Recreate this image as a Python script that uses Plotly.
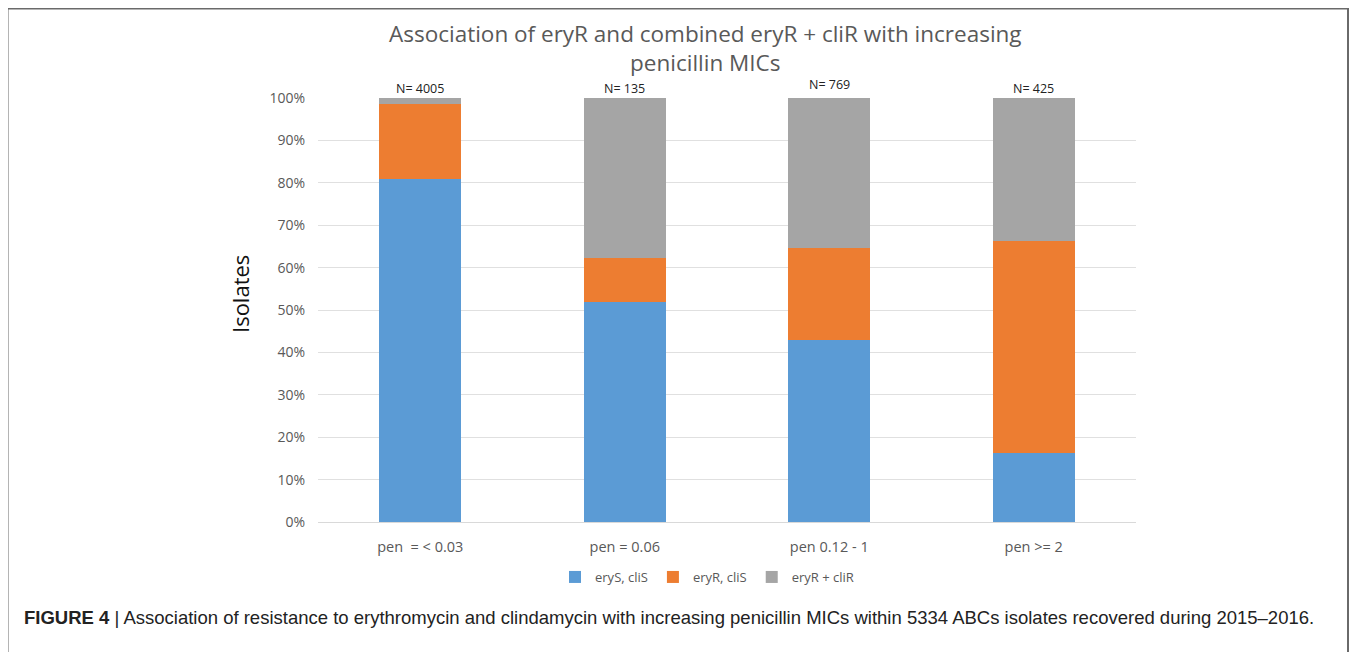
import plotly.graph_objects as go

categories = ["pen  = < 0.03", "pen = 0.06", "pen 0.12 - 1", "pen >= 2"]
n_labels = ["N= 4005", "N= 135", "N= 769", "N= 425"]
erys_clis = [80.8, 51.8, 42.9, 16.3]
eryr_clis = [17.7, 10.5, 21.7, 49.9]
eryr_clir = [1.5, 37.7, 35.4, 33.8]
series_names = ["eryS, cliS", "eryR, cliS", "eryR + cliR"]
colors = ["#5B9BD5", "#ED7D31", "#A5A5A5"]
y_ticks = [0, 10, 20, 30, 40, 50, 60, 70, 80, 90, 100]

# page body has an 8px margin; work in window coordinates
OFF = 8
W, H = 1357 - OFF, 652 - OFF
L, R, T, B = 310, 221, 90, 130
PW, PH = W - L - R, H - T - B


def px(X):
    return (X - OFF - L) / PW


def py(Y):
    return (H - (Y - OFF) - B) / PH


fig = go.Figure()
for name, vals, col in zip(series_names, [erys_clis, eryr_clis, eryr_clir], colors):
    fig.add_trace(go.Bar(x=categories, y=vals, name=name,
                         marker=dict(color=col, line=dict(width=0)), width=0.40))

n_shift = [0, 0, 4, 0]
for c, t, s in zip(categories, n_labels, n_shift):
    fig.add_annotation(x=c, y=100, text=t, showarrow=False, yanchor="bottom", yshift=-1 + s,
                       font=dict(family="Open Sans, sans-serif", size=12.5, color="#222222"))

fig.update_layout(
    width=W, height=H, barmode="stack",
    paper_bgcolor="white", plot_bgcolor="white",
    margin=dict(l=L, r=R, t=T, b=B, autoexpand=False),
    font=dict(family="Open Sans, sans-serif"),
    legend=dict(orientation="h", x=px(707), xanchor="center", y=py(577), yanchor="middle",
                font=dict(size=13, color="#595959"), traceorder="normal",
                itemwidth=30),
    xaxis=dict(showgrid=False, showline=True, linecolor="#D9D9D9", linewidth=1, ticks="",
               tickfont=dict(size=14.5, color="#595959"), ticklabelstandoff=12, fixedrange=True),
    yaxis=dict(range=[0, 100], tickvals=y_ticks, ticktext=[f"{v}%" for v in y_ticks],
               showgrid=True, gridcolor="#E0E0E0", gridwidth=1, zeroline=False, ticks="",
               tickfont=dict(size=14, color="#595959"), ticklabelstandoff=12),
    shapes=[dict(type="rect", xref="paper", yref="paper",
                 x0=px(7.5), x1=px(1348), y0=py(700), y1=py(8.5),
                 line=dict(color="#6A6A6A", width=2), fillcolor="rgba(0,0,0,0)", layer="below")],
    showlegend=True,
)

fig.add_annotation(xref="paper", yref="paper", x=px(705), y=py(47.5), xanchor="center",
                   yanchor="middle", showarrow=False,
                   text="Association of eryR and combined eryR + cliR with increasing<br>penicillin MICs",
                   font=dict(family="Open Sans, sans-serif", size=22.5, color="#595959"))

fig.add_annotation(xref="paper", yref="paper", x=px(240), y=py(294), xanchor="center",
                   yanchor="middle", showarrow=False, textangle=-90, text="Isolates",
                   font=dict(family="Open Sans, sans-serif", size=22, color="#111111"))

fig.add_annotation(xref="paper", yref="paper", x=px(22), y=py(617), xanchor="left",
                   yanchor="middle", showarrow=False, align="left",
                   text="<b>FIGURE 4</b> | Association of resistance to erythromycin and clindamycin with increasing penicillin MICs within 5334 ABCs isolates recovered during 2015–2016.",
                   font=dict(family="Liberation Sans, Arial, sans-serif", size=18.5, color="#222222"))

fig.write_html("out.html")
